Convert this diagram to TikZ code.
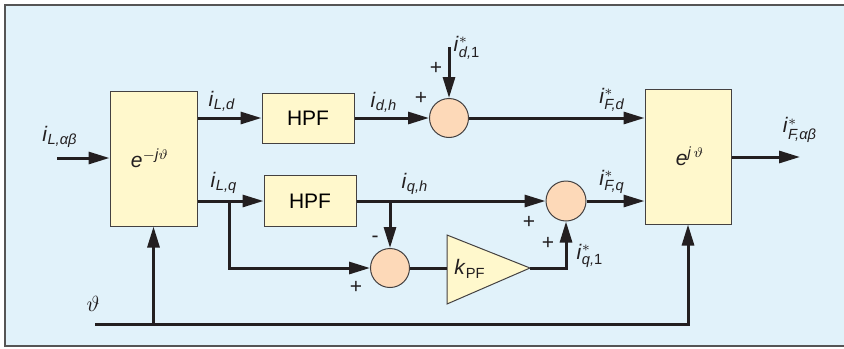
\documentclass[tikz,border=0pt]{standalone}
\usepackage{amsmath}
\usepackage{fontspec}
\setmainfont{Liberation Sans}
\usetikzlibrary{arrows.meta}
\definecolor{bgblue}{HTML}{E1F2FA}
\definecolor{blkyel}{HTML}{FFF8CC}
\definecolor{sumpch}{HTML}{FDD9B8}
\definecolor{lnblk}{HTML}{231F20}
\definecolor{frmgray}{HTML}{555555}
\tikzset{
  blk/.style={draw=lnblk!85,line width=.5pt,fill=blkyel,inner sep=0pt},
  summ/.style={circle,draw=lnblk!85,line width=.5pt,fill=sumpch,minimum size=19.5pt,inner sep=0pt},
  sig/.style={line width=1.5pt,draw=lnblk,-{Triangle[length=10.5pt,width=6pt]}},
  wire/.style={line width=1.5pt,draw=lnblk},
  lbl/.style={inner sep=0pt,text=lnblk},
}
\newcommand{\cur}[1]{\textit{i}$_{\textit{#1}}$}
\newcommand{\curs}[1]{\textit{i}$^{*}_{\textit{#1}}$}
\begin{document}
\begin{tikzpicture}[x=.5pt,y=-.5pt,every node/.style={font=\fontsize{10.5}{12}\selectfont}]
\useasboundingbox (0,0) rectangle (844,348);
\clip (0,0) rectangle (844,348);
\fill[bgblue] (5,5) rectangle (850,346);
\draw[frmgray,line width=1pt] (5,5) rectangle (850,346);
% blocks
\node[blk,minimum width=43.5pt,minimum height=67.5pt] (park) at (153.5,158.5) {};
\node[lbl] at (150,158) {\textit{e}$^{-\textit{j}\vartheta}$};
\node[blk,minimum width=43pt,minimum height=67.5pt] (ipark) at (688,156.5) {};
\node[lbl] at (690,156) {\textit{e}$^{\textit{j}\,\vartheta}$};
\node[blk,minimum width=46pt,minimum height=25pt] (hpfd) at (308,118) {HPF};
\node[blk,minimum width=46pt,minimum height=25.5pt] (hpfq) at (310,201) {HPF};
\node[summ] (sumd) at (449,118) {};
\node[summ,minimum size=20pt] (sumq) at (566,201) {};
\node[summ] (sumk) at (390,268) {};
\coordinate (kin) at (447,268);\coordinate (kout) at (530,268);
\draw[blk] (447,235)--(kout)--(447,304)--cycle;
\node[lbl] at (470,269) {\textit{k}$_{\text{PF}}$};
% signals
\coordinate (in) at (57,158);\coordinate (out) at (800,157);
\coordinate (dref) at (449,47);\coordinate (th) at (95,324);
\coordinate (brq) at (229,201);
\draw[sig] (in) -- (in -| park.west);
\draw[sig] (park.east |- hpfd) -- (hpfd.west);
\draw[sig] (park.east |- hpfq) -- (hpfq.west);
\draw[sig] (hpfd.east) -- (sumd.west);
\draw[sig] (dref) -- (sumd.north);
\draw[sig] (sumd.east) -- (ipark.west |- sumd);
\draw[sig] (hpfq.east) -- (sumq.west);
\draw[sig] (hpfq.east -| sumk) -- (sumk.north);
\draw[sig] (brq) |- (sumk.west);
\draw[wire] (sumk.east) -- (kin);
\draw[sig] (kout) -| (sumq.south);
\draw[sig] (sumq.east) -- (ipark.west |- sumq);
\draw[sig] (ipark.east |- out) -- (out);
\draw[sig] (th) -| (ipark.south);
\draw[sig] (park.south |- th) -- (park.south);
% labels
\node[lbl] at (60,137) {\cur{L,αβ}};
\node[lbl] at (222,101) {\cur{L,d}};
\node[lbl] at (224,183) {\cur{L,q}};
\node[lbl] at (384,102) {\cur{d,h}};
\node[lbl] at (415,184) {\cur{q,h}};
\node[lbl] at (467,48) {\curs{d,\textup{1}}};
\node[lbl] at (612,100) {\curs{F,d}};
\node[lbl] at (612,182) {\curs{F,q}};
\node[lbl] at (800,130) {\curs{F,αβ}};
\node[lbl] at (590,256) {\curs{q,\textup{1}}};
\node[lbl] at (93,304) {$\vartheta$};
\node[lbl] at (436,68) {+};
\node[lbl] at (421,98) {+};
\node[lbl] at (529,222) {+};
\node[lbl] at (548,243) {+};
\node[lbl] at (375,239) {-};
\node[lbl] at (356,287) {+};
\end{tikzpicture}
\end{document}
